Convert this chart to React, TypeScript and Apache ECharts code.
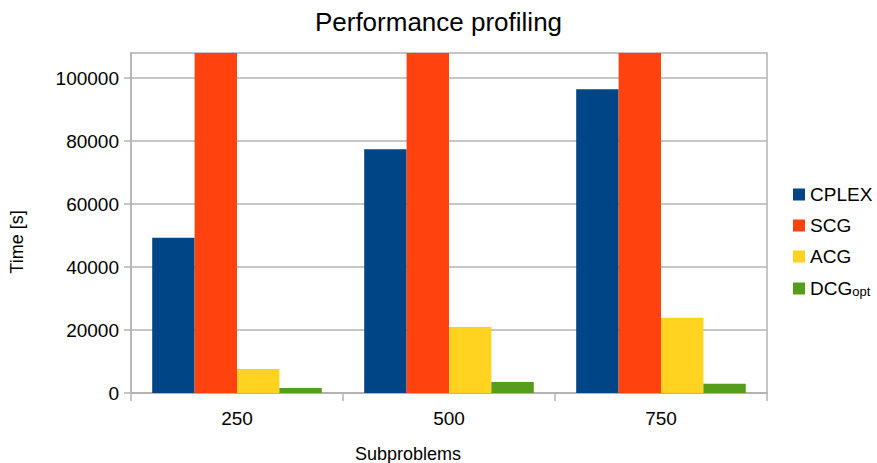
import React, { useEffect, useRef } from "react";
import * as echarts from "echarts";

const categories = ["250", "500", "750"];
const cplex = [49300, 77400, 96500];
const scg = [108000, 108000, 108000];
const acg = [7600, 21000, 23900];
const dcg = [1600, 3500, 2900];
const yTicks = [0, 20000, 40000, 60000, 80000, 100000];

const FONT = "Liberation Sans";
const GRID = "#b3b3b3";

export default function App() {
  const ref = useRef<HTMLDivElement>(null);
  useEffect(() => {
    const chart = echarts.init(ref.current!, null, { renderer: "svg" });
    const bar = (name: string, data: number[], color: string) => ({
      name,
      type: "bar",
      data,
      barGap: "0%",
      barCategoryGap: "20%",
      itemStyle: { color },
      clip: true,
    });
    chart.setOption({
      animation: false,
      textStyle: { fontFamily: FONT },
      title: {
        text: "Performance profiling",
        left: "center",
        top: 4,
        textStyle: { fontFamily: FONT, fontSize: 26, fontWeight: "normal", color: "#000" },
      },
      legend: {
        orient: "vertical",
        left: 788,
        top: 180,
        itemWidth: 12,
        itemHeight: 12,
        itemGap: 12,
        icon: "rect",
        textStyle: {
          fontFamily: FONT,
          fontSize: 19,
          color: "#000",
          lineHeight: 19,
          rich: {
            b: { fontFamily: FONT, fontSize: 19, color: "#000", lineHeight: 19 },
            sub: { fontFamily: FONT, fontSize: 13, color: "#000", lineHeight: 19, verticalAlign: "bottom", padding: [7, 0, 0, 0] },
          },
        },
        formatter: (n: string) => (n === "DCG_opt" ? "{b|DCG}{sub|opt}" : n),
        data: ["CPLEX", "SCG", "ACG", "DCG_opt"],
      },
      grid: {
        left: 131,
        right: 110,
        top: 53,
        bottom: 70,
        show: true,
        borderColor: GRID,
        borderWidth: 1.5,
        outerBoundsMode: "none",
        containLabel: false,
      },
      xAxis: {
        type: "category",
        data: categories,
        name: "Subproblems",
        nameLocation: "middle",
        nameGap: 52,
        nameTextStyle: { fontFamily: FONT, fontSize: 18, color: "#000", padding: [0, 82, 0, 0] },
        axisLine: { lineStyle: { color: GRID, width: 1.5 } },
        axisTick: { show: true, length: 8, lineStyle: { color: GRID, width: 1.5 } },
        axisLabel: { fontFamily: FONT, fontSize: 19, color: "#000", margin: 16 },
      },
      yAxis: {
        type: "value",
        min: 0,
        max: 108000,
        interval: 20000,
        name: "Time [s]",
        nameLocation: "middle",
        nameGap: 105,
        nameTextStyle: { fontFamily: FONT, fontSize: 18, color: "#000", padding: [0, 38, 0, 0] },
        axisLine: { show: true, lineStyle: { color: GRID, width: 1.5 } },
        axisTick: { show: true, length: 7, lineStyle: { color: GRID, width: 1.5 }, customValues: yTicks },
        axisLabel: {
          fontFamily: FONT,
          fontSize: 19,
          color: "#000",
          margin: 12,
          customValues: yTicks,
          formatter: (v: number) => String(v),
        },
        splitLine: { lineStyle: { color: GRID, width: 1.5 } },
      },
      series: [
        bar("CPLEX", cplex, "#004586"),
        bar("SCG", scg, "#ff420e"),
        bar("ACG", acg, "#ffd320"),
        bar("DCG_opt", dcg, "#579d1c"),
      ],
    });
    return () => chart.dispose();
  }, []);
  return <div ref={ref} style={{ width: 877, height: 463, position: "absolute", left: 0, top: 0 }} />;
}
